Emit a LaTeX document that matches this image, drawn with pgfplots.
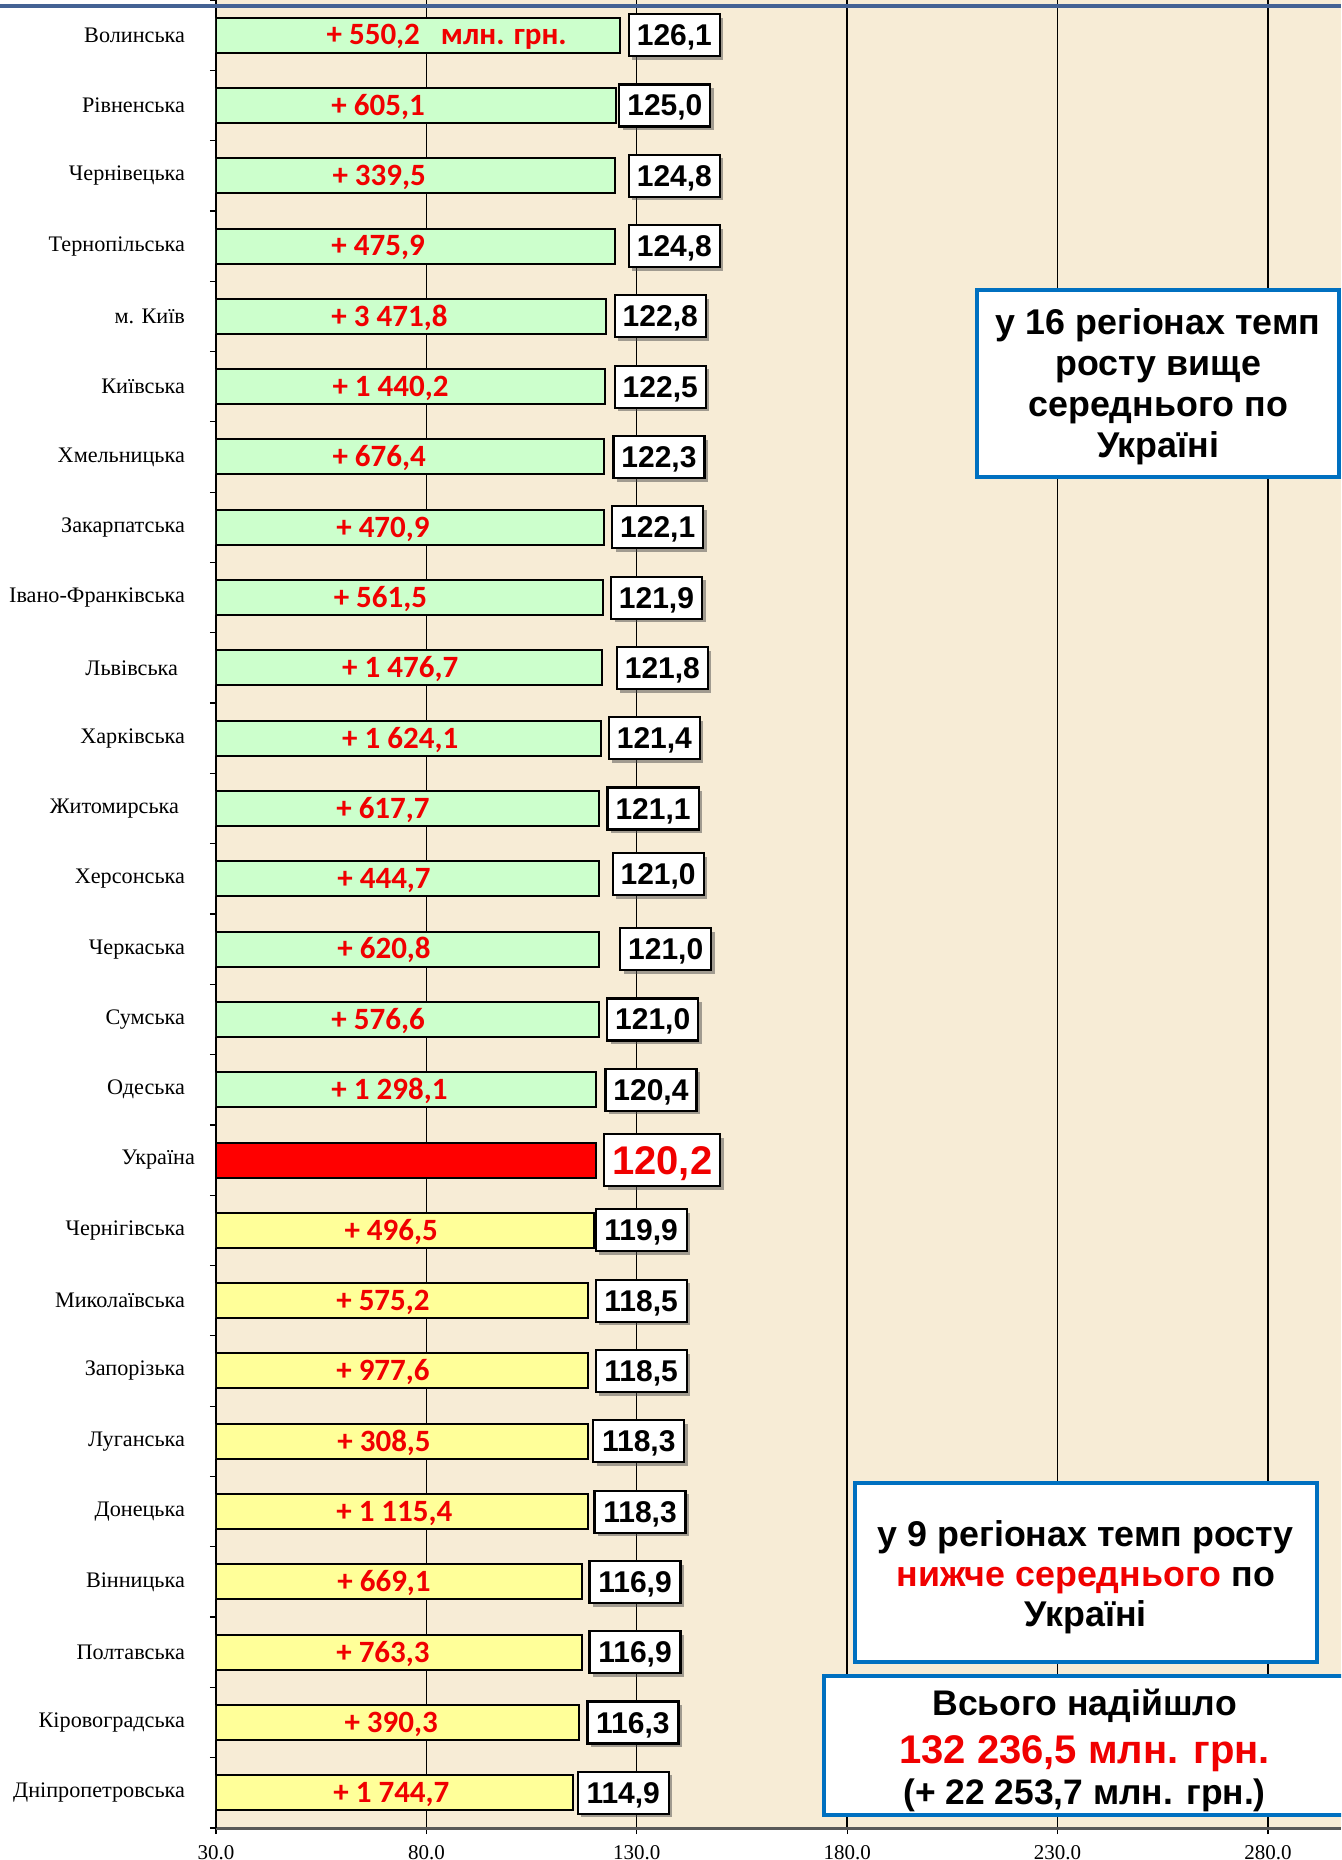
\documentclass[border=0pt]{standalone}
\usepackage{fontspec}
\setmainfont{Liberation Serif}
\newfontfamily\arial{Liberation Sans}
\newfontfamily\calibri{Carlito}
\usepackage{pgfplots}
\pgfplotsset{compat=1.18}
\usetikzlibrary{shadows}

\definecolor{bg}{RGB}{247,236,214}
\definecolor{grn}{RGB}{204,255,204}
\definecolor{ylw}{RGB}{255,255,153}
\definecolor{boxblue}{RGB}{0,112,192}
\definecolor{topblue}{RGB}{68,98,148}
\definecolor{lblred}{RGB}{240,0,0}

\begin{document}
\begin{tikzpicture}
\path[use as bounding box] (-108pt,-16pt) rectangle (562.5pt,914pt);
\begin{axis}[
  at={(0,0)}, anchor=south west,
  scale only axis, width=562.5pt, height=914pt,
  xmin=30, xmax=297.35, ymin=-0.5, ymax=25.5,
  axis x line*=bottom, axis y line*=left,
  axis background/.style={fill=bg},
  xtick={30,80,...,280},
  xticklabels={30.0,80.0,130.0,180.0,230.0,280.0},
  minor xtick={30,80,...,280},
  ytick={0,...,25},
  yticklabels={Дніпропетровська,Кіровоградська,Полтавська,Вінницька,Донецька,Луганська,Запорізька,Миколаївська,Чернігівська,Україна\kern-5pt\relax,Одеська,Сумська,Черкаська,Херсонська,Житомирська\kern3pt\relax,Харківська,Львівська\kern3.5pt\relax,Івано-Франківська,Закарпатська,Хмельницька,Київська,м. Київ,Тернопільська,Чернівецька,Рівненська,Волинська},
  minor ytick={-0.5,0.5,...,25.5},
  major tick length=0pt, minor tick length=3pt,
  tick align=outside,
  xmajorgrids, major grid style={black, line width=0.7pt},
  x axis line style={line width=1.5pt, black!65},
  y axis line style={line width=0.6pt, black},
  every minor tick/.append style={black, line width=0.6pt},
  xticklabel style={font=\fontsize{10.5}{12}\selectfont, yshift=-5pt},
  yticklabel style={font=\fontsize{11.1}{13}\selectfont, xshift=-12pt},
]
% bars
\addplot[xbar, bar width=17.5pt, bar shift=0pt, fill=grn, draw=black, line width=1pt]
  coordinates {(120.4,10) (121.0,11) (121.0,12) (121.0,13) (121.1,14) (121.4,15) (121.8,16) (121.9,17) (122.1,18) (122.3,19) (122.5,20) (122.8,21) (124.8,22) (124.8,23) (125.0,24) (126.1,25)};
\addplot[xbar, bar width=17.5pt, bar shift=0pt, fill=red, draw=black, line width=1pt]
  coordinates {(120.2,9)};
\addplot[xbar, bar width=17.5pt, bar shift=0pt, fill=ylw, draw=black, line width=1pt]
  coordinates {(114.9,0) (116.3,1) (116.9,2) (116.9,3) (118.3,4) (118.3,5) (118.5,6) (118.5,7) (119.9,8)};

% red increments inside bars
\addplot[draw=none, mark=none, nodes near coords, point meta=explicit symbolic,
  nodes near coords style={anchor=base west, inner sep=0pt, yshift=-4.9pt, text=lblred,
    font=\calibri\bfseries\fontsize{15.5}{18}\selectfont}]
  table[x=x, y=y, meta=t] {
x y t
56.2 25 {+ 550,2~~~млн. грн.}
57.35 24 {+ 605,1}
57.6 23 {+ 339,5}
57.35 22 {+ 475,9}
57.35 21 {+ 3 471,8}
57.6 20 {+ 1 440,2}
57.6 19 {+ 676,4}
58.5 18 {+ 470,9}
57.9 17 {+ 561,5}
59.9 16 {+ 1 476,7}
59.9 15 {+ 1 624,1}
58.5 14 {+ 617,7}
58.75 13 {+ 444,7}
58.75 12 {+ 620,8}
57.35 11 {+ 576,6}
57.35 10 {+ 1 298,1}
60.45 8 {+ 496,5}
58.5 7 {+ 575,2}
58.5 6 {+ 977,6}
58.75 5 {+ 308,5}
58.5 4 {+ 1 115,4}
58.75 3 {+ 669,1}
58.5 2 {+ 763,3}
60.45 1 {+ 390,3}
57.8 0 {+ 1 744,7}
};

% value boxes
\addplot[draw=none, mark=none, nodes near coords, point meta=explicit symbolic,
  nodes near coords style={anchor=west, draw=black, line width=1.1pt, fill=white,
    minimum width=45.5pt, minimum height=21pt, inner sep=0pt, text height=10.5pt, text depth=0pt,
    font=\arial\bfseries\fontsize{15}{17}\selectfont,
    drop shadow={shadow xshift=1.8pt, shadow yshift=-1.8pt, fill=black!70}}]
  table[x=x, y=y, meta=t] {
x y t
127.86 25 {126,1}
125.6 24 {125,0}
127.86 23 {124,8}
127.86 22 {124,8}
124.5 21 {122,8}
124.5 20 {122,5}
124.2 19 {122,3}
123.9 18 {122,1}
123.6 17 {121,9}
125.0 16 {121,8}
123.1 15 {121,4}
122.8 14 {121,1}
124.0 13.07 {121,0}
125.8 12 {121,0}
122.7 11 {121,0}
122.3 10 {120,4}
119.95 8 {119,9}
119.95 7 {118,5}
119.95 6 {118,5}
119.4 5 {118,3}
119.7 4 {118,3}
118.5 3 {116,9}
118.5 2 {116,9}
118.0 1 {116,3}
115.7 0 {114,9}
};

\addplot[draw=none, mark=none, nodes near coords, point meta=explicit symbolic,
  nodes near coords style={anchor=west, draw=black, line width=1.1pt, fill=white,
    minimum width=58pt, minimum height=26pt, inner sep=0pt, text height=14pt, text depth=0pt,
    text=lblred, font=\arial\bfseries\fontsize{20}{22}\selectfont,
    drop shadow={shadow xshift=1.8pt, shadow yshift=-1.8pt, fill=black!70}}]
  table[x=x, y=y, meta=t] {
x y t
122.0 9 {120,2}
};

% annotation boxes
\node[draw=boxblue, line width=2pt, fill=white, minimum width=181pt, minimum height=93.5pt]
  at (axis cs:253.9,20.05) {};
\node[align=center, inner sep=0pt, font=\arial\bfseries\fontsize{17.9}{20.5}\selectfont]
  at (axis cs:253.9,20.0) {у 16 регіонах темп\\росту вище\\середнього по\\Україні};

\node[draw=boxblue, line width=2pt, fill=white, minimum width=231pt, minimum height=89.5pt]
  at (axis cs:236.7,3.14) {};
\node[align=center, inner sep=0pt, font=\arial\bfseries\fontsize{17.9}{20}\selectfont]
  at (axis cs:236.7,3.07) {у 9 регіонах темп росту\\\textcolor{lblred}{нижче середнього} по\\Україні};

\node[draw=boxblue, line width=2pt, fill=white, minimum width=260.5pt, minimum height=69.5pt]
  at (axis cs:236.4,0.674) {};
\node[anchor=base, inner sep=0pt, font=\arial\bfseries\fontsize{17.8}{20}\selectfont]
  at (axis cs:236.4,1.10) {Всього надійшло};
\node[anchor=base, inner sep=0pt, text=lblred, font=\arial\bfseries\fontsize{20}{22}\selectfont]
  at (axis cs:236.4,0.424) {132 236,5 млн. грн.};
\node[anchor=base, inner sep=0pt, font=\arial\bfseries\fontsize{17.7}{20}\selectfont]
  at (axis cs:236.4,-0.16) {(+ 22 253,7 млн. грн.)};
\end{axis}
\draw[line width=2pt, topblue] (-108pt,911pt) -- (562.5pt,911pt);
\end{tikzpicture}
\end{document}
